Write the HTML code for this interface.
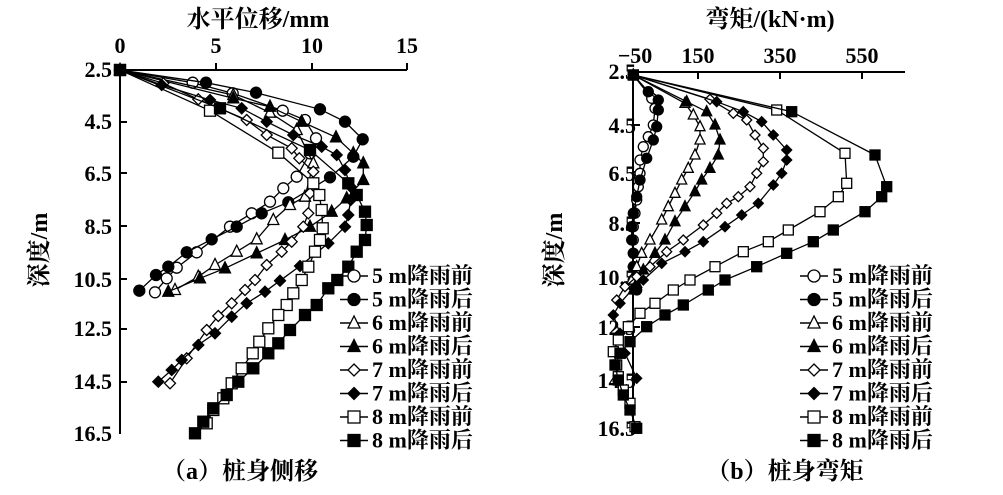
<!DOCTYPE html>
<html><head><meta charset="utf-8"><style>
body{margin:0;background:#fff;width:1003px;height:490px;overflow:hidden}
text{font-family:"Liberation Serif","Noto Serif CJK SC",serif;font-weight:bold;fill:#000}
</style></head><body>
<svg id="s" width="1003" height="490" xmlns="http://www.w3.org/2000/svg">
<g stroke="#000" stroke-width="2" fill="none">
<line x1="120" y1="70" x2="407" y2="70"/><line x1="120" y1="68" x2="120" y2="434"/>
<line x1="633" y1="72" x2="905" y2="72"/><line x1="633" y1="70" x2="633" y2="430"/>
<line x1="216" y1="70" x2="216" y2="63"/><line x1="312" y1="70" x2="312" y2="63"/><line x1="407" y1="70" x2="407" y2="63"/>
<line x1="698" y1="72" x2="698" y2="79"/><line x1="780" y1="72" x2="780" y2="79"/><line x1="862" y1="72" x2="862" y2="79"/>
<line x1="120" y1="122" x2="127" y2="122"/><line x1="120" y1="173" x2="127" y2="173"/><line x1="120" y1="226" x2="127" y2="226"/><line x1="120" y1="279" x2="127" y2="279"/><line x1="120" y1="329" x2="127" y2="329"/><line x1="120" y1="382" x2="127" y2="382"/>
<line x1="633" y1="125" x2="640" y2="125"/><line x1="633" y1="172" x2="640" y2="172"/><line x1="633" y1="223" x2="640" y2="223"/><line x1="633" y1="278" x2="640" y2="278"/><line x1="633" y1="327" x2="640" y2="327"/><line x1="633" y1="380" x2="640" y2="380"/>
</g>
<g font-size="22">
<text x="120" y="53" text-anchor="middle">0</text><text x="216" y="53" text-anchor="middle">5</text><text x="312" y="53" text-anchor="middle">10</text><text x="407" y="53" text-anchor="middle">15</text>
<text x="112" y="77" text-anchor="end">2.5</text><text x="112" y="129" text-anchor="end">4.5</text><text x="112" y="181" text-anchor="end">6.5</text><text x="112" y="234" text-anchor="end">8.5</text><text x="112" y="287" text-anchor="end">10.5</text><text x="112" y="336" text-anchor="end">12.5</text><text x="112" y="389" text-anchor="end">14.5</text><text x="112" y="441" text-anchor="end">16.5</text>
<text x="635" y="63" text-anchor="middle">−50</text><text x="698" y="63" text-anchor="middle">150</text><text x="780" y="63" text-anchor="middle">350</text><text x="862" y="63" text-anchor="middle">550</text>
<text x="636" y="79" text-anchor="end">2.5</text><text x="636" y="133" text-anchor="end">4.5</text><text x="636" y="181" text-anchor="end">6.5</text><text x="636" y="231" text-anchor="end">8.5</text><text x="636" y="285" text-anchor="end">10.5</text><text x="636" y="335" text-anchor="end">12.5</text><text x="636" y="388" text-anchor="end">14.5</text><text x="636" y="436" text-anchor="end">16.5</text>
</g>
<g font-size="24">
<text x="258" y="27" text-anchor="middle">水平位移/mm</text>
<text x="770" y="27" text-anchor="middle">弯矩/(kN·m)</text>
<text x="240" y="479" text-anchor="middle">（a）桩身侧移</text>
<text x="785" y="479" text-anchor="middle">（b）桩身弯矩</text>
<text transform="translate(47,250) rotate(-90)" text-anchor="middle">深度/m</text>
<text transform="translate(562,250) rotate(-90)" text-anchor="middle">深度/m</text>
</g>
<g id="d"></g>
</svg>
<script>
var L=[
[[60,90],[278,128],[398,160],[548,212],[615,240],[648,295],[630,340],[590,410],[550,445],[510,485],[455,520],[390,560],[290,637],[230,683],[200,715],[165,757]],
[[60,90],[318,128],[468,158],[660,208],[735,245],[788,298],[760,350],[690,412],[565,487],[485,520],[410,560],[335,598],[260,637],[205,680],[168,705],[118,752]],
[[60,90],[400,165],[510,218],[590,270],[640,370],[615,470],[570,495],[520,540],[470,598],[410,635],[345,675],[295,710],[225,750]],
[[60,90],[400,175],[510,200],[605,245],[708,292],[760,340],[790,370],[790,420],[740,475],[695,515],[630,560],[555,600],[470,640],[375,685],[300,715],[205,755]],
[[60,90],[190,130],[295,178],[440,240],[500,285],[575,325],[598,355],[640,395],[630,460],[625,520],[610,560],[575,605],[545,635],[500,675],[465,720],[435,750],[395,790],[355,828],[320,870],[260,955],[210,1030]],
[[60,90],[185,135],[330,180],[425,205],[500,245],[580,285],[665,320],[710,345],[735,390],[752,440],[752,480],[745,525],[735,560],[685,610],[600,678],[540,722],[495,755],[440,790],[395,830],[345,880],[295,915],[245,960],[215,990],[175,1025]],
[[60,90],[330,212],[535,338],[640,430],[658,465],[665,510],[668,565],[660,600],[645,635],[625,680],[605,720],[580,760],[560,795],[535,825],[505,865],[478,905],[458,940],[425,985],[395,1030],[370,1075],[340,1110],[320,1150]],
[[60,90],[360,205],[630,330],[745,430],[770,465],[795,515],[800,555],[795,600],[770,635],[745,680],[712,720],[685,745],[650,795],[615,825],[570,870],[535,910],[505,940],[460,985],[415,1025],[380,1065],[340,1105],[310,1145],[285,1180]]];
var R=[
[[100,105],[155,175],[165,205],[160,255],[145,290],[130,320],[120,360],[120,400],[115,440],[110,480],[105,520],[100,560],[100,600],[100,640],[100,680],[100,720]],
[[100,105],[145,155],[175,180],[175,210],[170,260],[160,300],[140,355],[120,420],[110,470],[100,520],[95,560],[95,600],[100,640],[100,680],[100,720],[110,750]],
[[100,105],[255,190],[280,225],[300,260],[300,300],[285,345],[265,385],[245,420],[225,460],[205,500],[185,540],[150,600],[125,640],[110,680],[95,720]],
[[100,105],[260,185],[320,215],[345,255],[360,300],[355,345],[330,385],[305,420],[285,455],[255,500],[225,545],[195,600],[165,640],[130,690],[110,730],[100,750]],
[[100,105],[330,178],[400,220],[440,240],[465,285],[490,325],[490,365],[470,400],[450,440],[415,470],[380,490],[350,520],[310,555],[250,600],[200,635],[150,680],[110,710],[75,740],[50,780]],
[[100,105],[350,185],[430,215],[485,245],[520,285],[560,330],[560,360],[545,400],[520,435],[475,490],[425,525],[375,560],[310,605],[255,635],[185,670],[130,720],[100,745],[60,790],[40,825],[60,880],[75,940],[110,1015]],
[[100,105],[530,210],[735,340],[740,430],[715,470],[660,515],[565,570],[505,605],[430,635],[345,680],[270,720],[220,750],[165,790],[120,820],[85,860],[55,900],[40,935],[50,975],[55,1010],[70,1050],[90,1090],[105,1160]],
[[100,105],[575,215],[825,345],[860,440],[845,470],[795,515],[700,570],[640,605],[560,640],[470,680],[375,720],[325,750],[250,795],[195,825],[140,860],[90,905],[60,940],[45,975],[55,1020],[70,1065],[90,1110],[110,1165]]];
var types=['c','c','t','t','d','d','s','s'];
var g=document.getElementById('d'),h='';
function mk(t,f,x,y,r){x=+x;y=+y;var fill=f?'#000':'#fff',a=' fill="'+fill+'" stroke="#000" stroke-width="1.3"';
 if(t=='c')return '<circle cx="'+x+'" cy="'+y+'" r="'+r+'"'+a+'/>';
 if(t=='s')return '<rect x="'+(x-r)+'" y="'+(y-r)+'" width="'+2*r+'" height="'+2*r+'"'+a+'/>';
 if(t=='t')return '<polygon points="'+x+','+(y-r-1)+' '+(x-r)+','+(y+r-1)+' '+(x+r)+','+(y+r-1)+'"'+a+'/>';
 return '<polygon points="'+x+','+(y-r)+' '+(x+r)+','+y+' '+x+','+(y+r)+' '+(x-r)+','+y+'"'+a+'/>';}
function draw(set,ox,rr){set.forEach(function(p,i){var pts=p.map(function(q){return [Math.round((ox+q[0]/3)*10)/10,Math.round((40+q[1]/3)*10)/10]});
 h+='<polyline fill="none" stroke="#000" stroke-width="1.3" points="'+pts.map(function(q){return q.join(',')}).join(' ')+'"/>';
 pts.forEach(function(q){h+=mk(types[i],i%2,q[0],q[1],rr)});});}
draw(L,100,5.5);draw(R,600,5);
var lab=['降雨前','降雨后'];
for(var i=0;i<8;i++){var y=276+i*23.5;
 [340,800].forEach(function(lx){
  var mx=lx+14;h+='<line x1="'+lx+'" y1="'+y+'" x2="'+(lx+28)+'" y2="'+y+'" stroke="#000" stroke-width="1.5"/>'+mk(types[i],i%2,mx,y,6);
  h+='<text x="'+(lx+32)+'" y="'+(y+7)+'" font-size="22">'+(5+Math.floor(i/2))+' m'+lab[i%2]+'</text>';});}
g.innerHTML=h;
</script>
</body></html>
